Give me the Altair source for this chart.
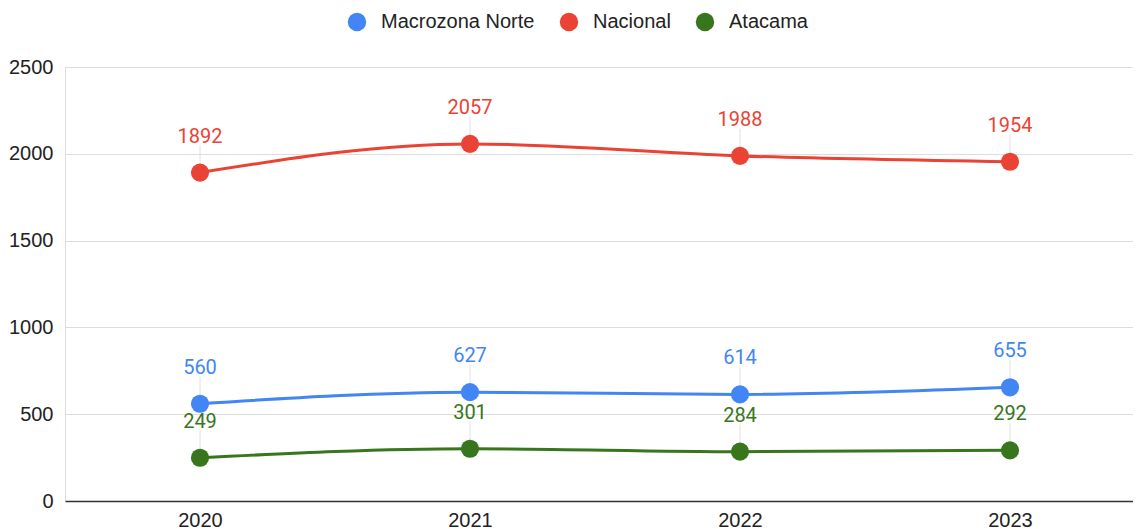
import altair as alt
import pandas as pd

years = [2020, 2021, 2022, 2023]
series = ["Macrozona Norte", "Nacional", "Atacama"]
macrozona_norte = [560, 627, 614, 655]
nacional = [1892, 2057, 1988, 1954]
atacama = [249, 301, 284, 292]
colors = ["#4285F4", "#EA4335", "#38761D"]
y_ticks = [0, 500, 1000, 1500, 2000, 2500]

rows = []
for name, vals in zip(series, [macrozona_norte, nacional, atacama]):
    for yr, v in zip(years, vals):
        rows.append({"year": yr, "serie": name, "value": v})
df = pd.DataFrame(rows)

PLOT_W = 1068
STEP = 270
x_domain = [years[0] - 0.5, years[0] - 0.5 + PLOT_W / STEP]

x = alt.X("year:Q",
          scale=alt.Scale(domain=x_domain, nice=False, zero=False),
          axis=alt.Axis(title=None, values=years, format="d", labelAngle=0,
                        labelFont="Liberation Sans",
                        labelFontSize=20, labelColor="#222222", labelPadding=9,
                        ticks=False, domain=True, domainColor="#333333", domainWidth=1.5,
                        grid=False))
y = alt.Y("value:Q",
          scale=alt.Scale(domain=[0, 2500], nice=False),
          axis=alt.Axis(title=None, values=y_ticks, format="d", labelFont="Liberation Sans",
                        labelFontSize=20, labelColor="#222222", labelPadding=12,
                        ticks=False, domain=False, gridColor="#DDDDDD", gridWidth=1))
color_scale = alt.Scale(domain=series, range=colors)

base = alt.Chart(df)

leaders = base.mark_rule(color="#E0E0E0", strokeWidth=1, yOffset=-27, y2Offset=0).encode(
    x=x, y=y, y2="value:Q"
)

lines = base.mark_line(interpolate="monotone", strokeWidth=3).encode(
    x=x, y=y,
    color=alt.Color("serie:N", scale=color_scale, legend=None),
    detail="serie:N",
)

points = base.mark_circle(size=330, opacity=1).encode(
    x=x, y=y,
    color=alt.Color("serie:N", scale=color_scale,
                    legend=alt.Legend(title=None, orient="none", direction="horizontal",
                                      legendX=282, legendY=-55,
                                      symbolType="circle", symbolSize=340,
                                      symbolOpacity=1,
                                      labelFont="Liberation Sans", labelFontSize=20,
                                      labelColor="#222222", labelOffset=14,
                                      columnPadding=24)),
)

labels = base.mark_text(font="Roboto", fontSize=20, dy=-30, baseline="alphabetic").encode(
    x=x, y=y, text="value:Q",
    color=alt.Color("serie:N", scale=color_scale, legend=None),
)

chart = alt.layer(leaders, lines, points, labels).resolve_legend(
    color="independent"
).properties(
    width=PLOT_W, height=434,
    padding={"left": 0, "top": 4, "right": 0, "bottom": 0},
).configure_view(stroke=None).configure(background="white")

chart.save("out.html", embed_options={"renderer": "svg", "actions": False})
